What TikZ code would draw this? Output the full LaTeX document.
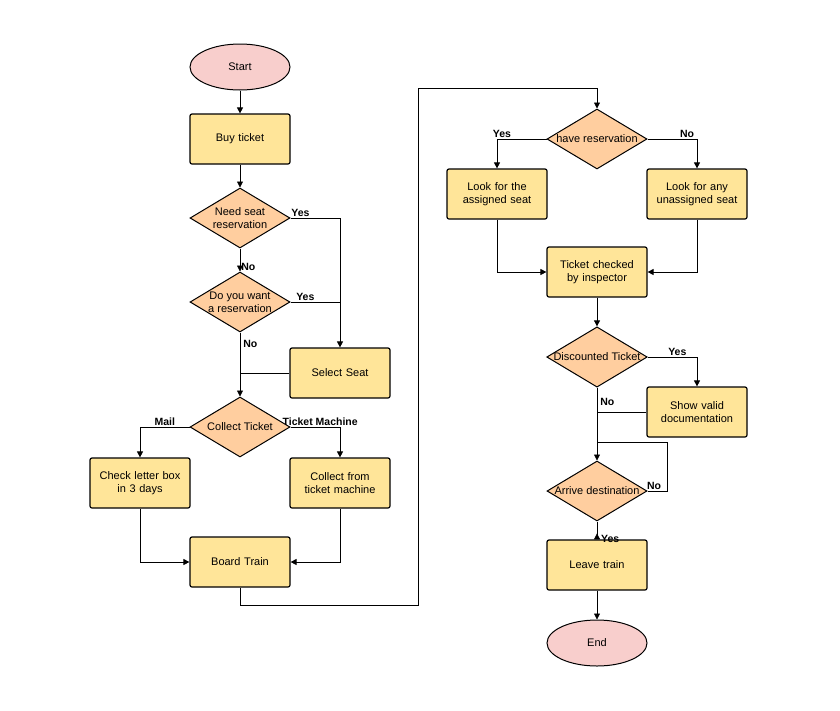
\documentclass[tikz,border=0pt]{standalone}
\usepackage{fontspec}
\setmainfont{Liberation Sans}
\usetikzlibrary{shapes.geometric,arrows.meta}
\definecolor{rectc}{HTML}{FFE599}
\definecolor{diac}{HTML}{FFCE9F}
\definecolor{ellc}{HTML}{F8CECC}
\begin{document}
\begin{tikzpicture}[x=1pt,y=-1pt,
 every node/.style={font=\fontsize{11}{13}\selectfont},
 box/.style={draw,line width=1.2pt,rounded corners=2pt,fill=rectc,minimum width=100pt,minimum height=50pt,align=center,text width=92pt},
 dia/.style={draw,line width=1pt,diamond,aspect=1.667,fill=diac,minimum width=100pt,minimum height=60pt,inner sep=0pt,align=center},
 ell/.style={draw,line width=1pt,ellipse,fill=ellc,minimum width=100pt,minimum height=46pt},
 arr/.style={draw,line width=0.8pt,-{Triangle[length=6pt,width=6pt]}},
 ln/.style={draw,line width=0.8pt},
 lab/.style={font=\bfseries\fontsize{10.5}{12}\selectfont,inner sep=1pt}]
\path[use as bounding box,fill=white] (0,0) rectangle (840,710);
\node[ell] (start) at (240,67) {Start};
\node[box] (buy) at (240,139) {Buy ticket};
\node[dia] (need) at (240,218) {Need seat\\reservation};
\node[dia] (want) at (240,302) {Do you want\\a reservation};
\node[box] (sel) at (340,373) {Select Seat};
\node[dia] (coll) at (240,427) {Collect Ticket};
\node[box] (chk) at (140,483) {Check letter box\\in 3 days};
\node[box] (cfm) at (340,483) {Collect from\\ticket machine};
\node[box] (board) at (240,562) {Board Train};
\node[dia] (have) at (597,139) {have reservation};
\node[box] (asg) at (497,194) {Look for the\\assigned seat};
\node[box] (any) at (697,194) {Look for any\\unassigned seat};
\node[box] (insp) at (597,272) {Ticket checked\\by inspector};
\node[dia] (disc) at (597,357) {Discounted Ticket};
\node[box] (show) at (697,412) {Show valid\\documentation};
\node[dia] (arr) at (597,491) {Arrive destination};
\node[box] (leave) at (597,565) {Leave train};
\node[ell] (end) at (597,643) {End};
\coordinate (j1) at (240,373);
\coordinate (j2) at (597,412);
\coordinate (j3) at (597,442);
\path[arr] (start) -- (buy);
\path[arr] (buy) -- (need);
\path[arr] (need) -- (want) node[lab,pos=0.82,right] {No};
\path[arr] (need.east) -| node[lab,pos=0.1,above] {Yes} (sel.north);
\path[ln] (want.east) -- node[lab,pos=0.3,above] {Yes} (340,302);
\path[arr] (want.south) -- (coll.north) node[lab,pos=0.18,right,xshift=2pt] {No};
\path[ln] (sel.west) -- (j1);
\path[arr] (coll.west) -| node[lab,pos=0.25,above] {Mail} (chk.north);
\path[arr] (coll.east) -| node[lab,pos=0.3,above] {Ticket Machine} (cfm.north);
\path[arr] (chk.south) |- (board.west);
\path[arr] (cfm.south) |- (board.east);
\path[arr] (board.south) -- (240,605) -- (418,605) -- (418,88) -- (597,88) -- (have.north);
\path[arr] (have.west) -| node[lab,pos=0.45,above] {Yes} (asg.north);
\path[arr] (have.east) -| node[lab,pos=0.4,above] {No} (any.north);
\path[arr] (asg.south) |- (insp.west);
\path[arr] (any.south) |- (insp.east);
\path[arr] (insp) -- (disc);
\path[arr] (disc.east) -| node[lab,pos=0.3,above] {Yes} (show.north);
\path[arr] (disc.south) -- (arr.north) node[lab,pos=0.2,right,xshift=2pt] {No};
\path[ln] (show.west) -- (j2);
\path[ln] (arr.east) -- (667,491) -- (667,442) -- (j3);
\node[lab,above] at (654,491) {No};
\path[draw,line width=0.8pt,{Triangle[length=6pt,width=6pt,reversed]}-] (leave.north) -- (arr.south);
\node[lab,right] at (600,539) {Yes};
\path[arr] (leave) -- (end);
\end{tikzpicture}
\end{document}
